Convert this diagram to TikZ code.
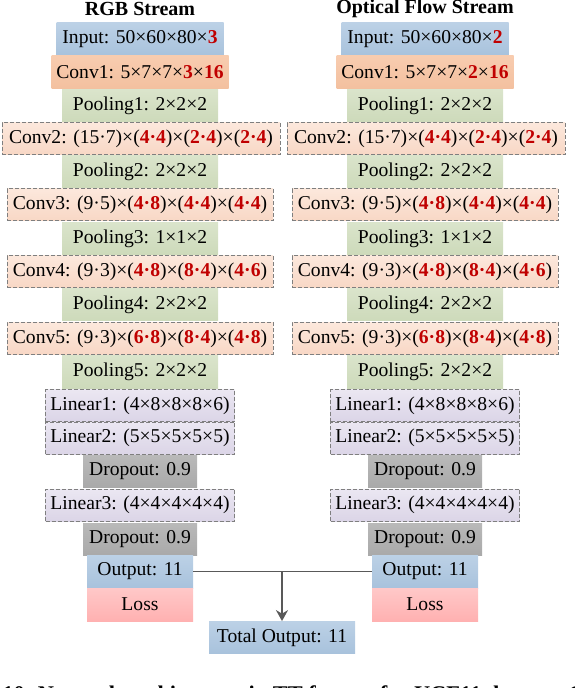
\documentclass[tikz,border=0pt]{standalone}
\usepackage{fontspec}
\setmainfont{Liberation Serif}
\usepackage{xcolor}
\usetikzlibrary{arrows.meta,positioning,calc}
\definecolor{bluetop}{HTML}{BCD1E6}
\definecolor{bluebot}{HTML}{A8C2DC}
\definecolor{orgtop}{HTML}{F8CCAF}
\definecolor{orgbot}{HTML}{F3C09F}
\definecolor{grntop}{HTML}{DAE4CB}
\definecolor{grnbot}{HTML}{CDDABA}
\definecolor{pchtop}{HTML}{FCE8DC}
\definecolor{pchbot}{HTML}{F8D7C5}
\definecolor{lavtop}{HTML}{EBE7F2}
\definecolor{lavbot}{HTML}{DBD5E7}
\definecolor{drptop}{HTML}{B9B9B9}
\definecolor{drpbot}{HTML}{A9A9A9}
\definecolor{losstop}{HTML}{FFC8C8}
\definecolor{lossbot}{HTML}{FFB1B1}
\definecolor{dimred}{HTML}{C00000}
\definecolor{edgegray}{HTML}{7F7F7F}
\definecolor{linkgray}{HTML}{595959}
\newcommand{\rednum}[1]{\textbf{\textcolor{dimred}{#1}}}
\tikzset{
  layer/.style={inner sep=0pt,minimum height=16pt,align=center,
                font=\fontsize{9.8}{11}\selectfont},
  inbox/.style={layer,top color=bluetop,bottom color=bluebot,
                minimum height=16.5pt},
  firstconv/.style={layer,top color=orgtop,bottom color=orgbot,
                    minimum width=88.5pt,minimum height=16.5pt},
  poolbox/.style={layer,top color=grntop,bottom color=grnbot,
                  minimum width=78pt},
  ttconv/.style={layer,top color=pchtop,bottom color=pchbot,
                 draw=edgegray,dash pattern=on 2pt off 1pt,line width=0.5pt},
  ttlinear/.style={layer,top color=lavtop,bottom color=lavbot,
                   draw=edgegray,dash pattern=on 2pt off 1pt,line width=0.5pt,
                   minimum width=94.5pt},
  dropbox/.style={layer,top color=drptop,bottom color=drpbot,
                  minimum width=57pt},
  lossbox/.style={layer,top color=losstop,bottom color=lossbot,
                  minimum width=53pt,minimum height=16.5pt},
  title/.style={font=\fontsize{10}{12}\selectfont\bfseries,inner sep=0pt},
  linkarr/.style={-{Stealth[length=5.5pt,width=6pt]},line width=0.9pt,
                  draw=linkgray}
}
\begin{document}
\begin{tikzpicture}[x=0.5pt,y=-0.5pt]
    \clip[use as bounding box] (0,0) rectangle (574,688);

    % RGB stream
    \node[title] (rgbtitle) at (140,9) {RGB Stream};
    \node[inbox,minimum width=83.5pt] (rgbin) at (140,39.5)
      {Input: 50×60×80×\rednum{3}};
    \node[firstconv] (rgbc1) at (140,72.5)
      {Conv1: 5×7×7×\rednum{3}×\rednum{16}};
    \node[poolbox] (rgbp1) at (140,106) {Pooling1: 2×2×2};
    \node[ttconv,minimum width=139pt] (rgbc2) at (141,139)
      {Conv2: (15·7)×(\rednum{4·4})×(\rednum{2·4})×(\rednum{2·4})};
    \node[poolbox] (rgbp2) at (140,172) {Pooling2: 2×2×2};
    \node[ttconv,minimum width=133pt] (rgbc3) at (140,205)
      {Conv3: (9·5)×(\rednum{4·8})×(\rednum{4·4})×(\rednum{4·4})};
    \node[poolbox] (rgbp3) at (140,238.5) {Pooling3: 1×1×2};
    \node[ttconv,minimum width=133pt] (rgbc4) at (140,272)
      {Conv4: (9·3)×(\rednum{4·8})×(\rednum{8·4})×(\rednum{4·6})};
    \node[poolbox] (rgbp4) at (140,305) {Pooling4: 2×2×2};
    \node[ttconv,minimum width=133pt] (rgbc5) at (140,338.5)
      {Conv5: (9·3)×(\rednum{6·8})×(\rednum{8·4})×(\rednum{4·8})};
    \node[poolbox] (rgbp5) at (140,372) {Pooling5: 2×2×2};
    \node[ttlinear] (rgbl1) at (140,405.5) {Linear1: (4×8×8×8×6)};
    \node[ttlinear] (rgbl2) at (140,438) {Linear2: (5×5×5×5×5)};
    \node[dropbox] (rgbd1) at (140,471.5) {Dropout: 0.9};
    \node[ttlinear] (rgbl3) at (140,505) {Linear3: (4×4×4×4×4)};
    \node[dropbox] (rgbd2) at (140,539) {Dropout: 0.9};
    \node[inbox,minimum width=53pt] (rgbout) at (140,571.5) {Output: 11};
    \node[lossbox] (rgbloss) at (140,604.5) {Loss};

    % optical flow stream
    \node[title] (flowtitle) at (425,9) {Optical Flow Stream};
    \node[inbox,minimum width=83.5pt] (flowin) at (425,39.5)
      {Input: 50×60×80×\rednum{2}};
    \node[firstconv] (flowc1) at (425,72.5)
      {Conv1: 5×7×7×\rednum{2}×\rednum{16}};
    \node[poolbox] (flowp1) at (425,106) {Pooling1: 2×2×2};
    \node[ttconv,minimum width=139pt] (flowc2) at (426,139)
      {Conv2: (15·7)×(\rednum{4·4})×(\rednum{2·4})×(\rednum{2·4})};
    \node[poolbox] (flowp2) at (425,172) {Pooling2: 2×2×2};
    \node[ttconv,minimum width=133pt] (flowc3) at (425,205)
      {Conv3: (9·5)×(\rednum{4·8})×(\rednum{4·4})×(\rednum{4·4})};
    \node[poolbox] (flowp3) at (425,238.5) {Pooling3: 1×1×2};
    \node[ttconv,minimum width=133pt] (flowc4) at (425,272)
      {Conv4: (9·3)×(\rednum{4·8})×(\rednum{8·4})×(\rednum{4·6})};
    \node[poolbox] (flowp4) at (425,305) {Pooling4: 2×2×2};
    \node[ttconv,minimum width=133pt] (flowc5) at (425,338.5)
      {Conv5: (9·3)×(\rednum{6·8})×(\rednum{8·4})×(\rednum{4·8})};
    \node[poolbox] (flowp5) at (425,372) {Pooling5: 2×2×2};
    \node[ttlinear] (flowl1) at (425,405.5) {Linear1: (4×8×8×8×6)};
    \node[ttlinear] (flowl2) at (425,438) {Linear2: (5×5×5×5×5)};
    \node[dropbox] (flowd1) at (425,471.5) {Dropout: 0.9};
    \node[ttlinear] (flowl3) at (425,505) {Linear3: (4×4×4×4×4)};
    \node[dropbox] (flowd2) at (425,539) {Dropout: 0.9};
    \node[inbox,minimum width=53pt] (flowout) at (425,571.5) {Output: 11};
    \node[lossbox] (flowloss) at (425,604.5) {Loss};

    % fusion
    \node[inbox,minimum width=73pt,minimum height=16pt] (total) at (282,637.5)
      {Total Output: 11};
    \coordinate (join) at (total.north |- rgbout.east);
    \draw[linkgray,line width=0.9pt] (rgbout.east) -- (flowout.west);
    \draw[linkarr] (join) -- (total.north);

    \node[anchor=base west,inner sep=0pt,
          font=\fontsize{11.2}{13}\selectfont\bfseries] (caption) at (2,701)
      {10. Network architecture in TT format for UCF11 dataset. C};
  \end{tikzpicture}
\end{document}
